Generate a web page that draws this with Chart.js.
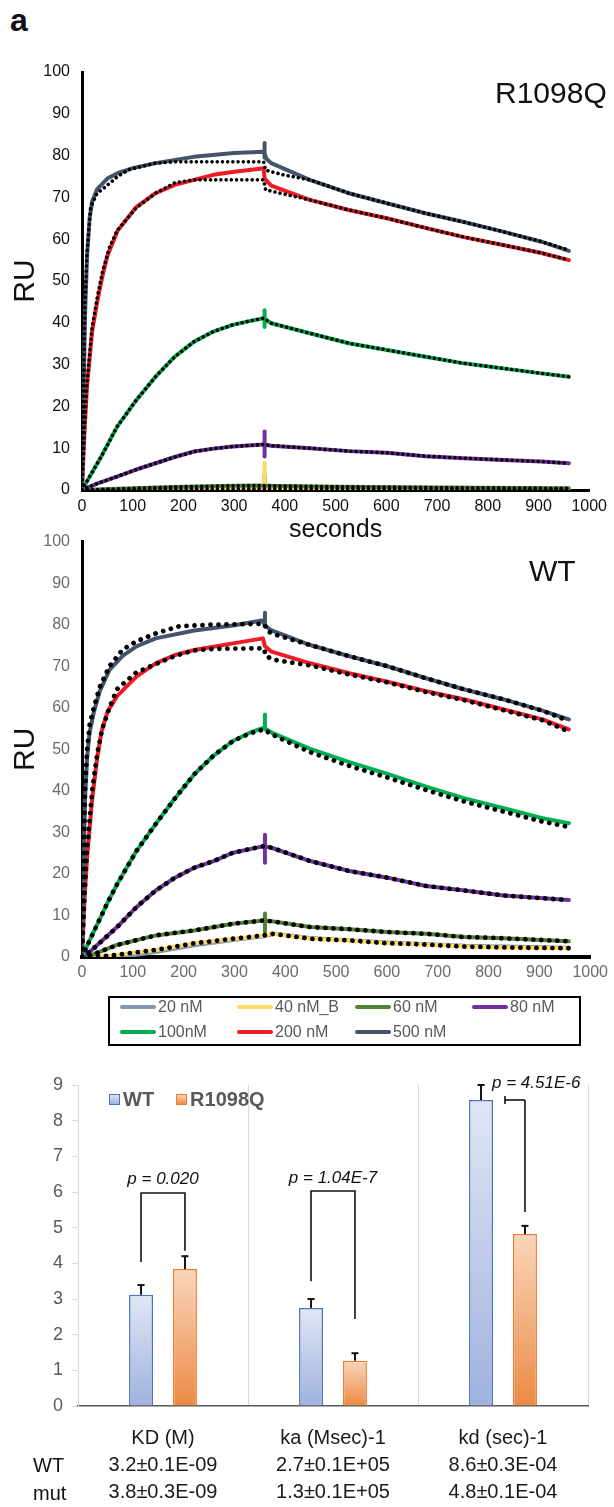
<!DOCTYPE html>
<html>
<head>
<meta charset="utf-8">
<script src="https://cdn.jsdelivr.net/npm/chart.js@4.4.1/dist/chart.umd.min.js"></script>
<style>
  html, body { margin: 0; padding: 0; background: #fff; }
  body { width: 614px; height: 1507px; position: relative; overflow: hidden; font-family: "Liberation Sans", Arial, sans-serif; color: #111; }
  canvas { position: absolute; left: 0; }
  .txt { position: absolute; white-space: nowrap; }
  #lineLegend { position: absolute; left: 108px; top: 996px; width: 469px; height: 46px; border: 2px solid #000; }
  #lineLegend .item { position: absolute; display: flex; align-items: center; font-size: 16px; color: #595959; height: 20px; }
  #lineLegend .sw { width: 36px; height: 4px; border-radius: 2px; margin-right: 2px; }
  #barLegend { position: absolute; left: 109px; top: 1088px; display: flex; align-items: center; font-size: 20px; font-weight: bold; color: #595959; }
  #barLegend .sq { width: 9px; height: 9px; margin-right: 3px; }
</style>
</head>
<body>
<div class="txt" style="left:10px;top:2px;font-size:32px;line-height:36px;font-weight:bold;">a</div>
<canvas id="mutChart" width="614" height="545" style="top:0"></canvas>
<canvas id="wtChart" width="614" height="475" style="top:520px"></canvas>
<div class="txt" style="left:495px;top:76px;font-size:30px;line-height:34px;">R1098Q</div>
<div class="txt" style="left:529px;top:554px;font-size:30px;line-height:34px;">WT</div>
<div id="lineLegend"></div>
<canvas id="barChart" width="614" height="457" style="top:1050px"></canvas>
<div id="barLegend"></div>
<div class="txt" style="left:33px;top:1452px;font-size:20px;line-height:26px;">WT</div>
<div class="txt" style="left:33px;top:1480px;font-size:20px;line-height:26px;">mut</div>
<script>
// series shared by both sensorgrams
const seriesNames = ["20 nM", "40 nM_B", "60 nM", "80 nM", "100nM", "200 nM", "500 nM"];
const seriesColors = ["#8497b0", "#ffd966", "#548235", "#7030a0", "#00b050", "#ee1c25", "#44546a"];
const spikeTime = 360;

// R1098Q (top) – [seconds, RU]
const r20 = [[0, 0], [960, 0]];
const r40 = [[0, 0], [200, 0.2], [358, 0.3], [373, 0.3], [960, 0.2]];
const r60 = [[0, 0], [100, 0.4], [200, 0.8], [300, 1.0], [358, 1.1], [373, 1.0], [500, 0.8], [700, 0.6], [960, 0.4]];
const r80 = [[0, 0], [31, 1.6], [69, 3.2], [107, 4.9], [145, 6.4], [183, 7.9], [221, 9.2], [259, 9.9], [297, 10.4], [358, 10.9],
  [373, 10.6], [449, 10], [526, 9.3], [601, 8.9], [677, 8.1], [753, 7.6], [830, 7.2], [906, 6.8], [960, 6.4]];
const r100 = [[0, 0], [8, 1.7], [38, 8], [69, 15.1], [107, 21.5], [145, 27.1], [183, 31.9], [221, 35.5], [259, 37.9], [297, 39.5],
  [330, 40.4], [358, 41.1], [373, 39.9], [449, 37.5], [526, 35.1], [601, 33.5], [677, 31.9], [753, 30.3], [830, 29.1], [906, 27.9], [960, 27.1]];
const r200 = [[0, 0], [5, 14], [10, 25], [20, 38], [30, 45], [40, 51], [50, 56], [70, 62], [107, 67.7], [145, 71], [183, 73], [221, 74.2],
  [259, 75.4], [297, 76.1], [358, 77], [360, 74.5], [373, 72.8], [449, 69.4], [526, 67], [601, 65], [677, 62.7], [753, 60.5], [830, 58.6], [906, 56.7], [960, 55]];
const r500 = [[0, 0], [3, 22], [6, 42], [10, 56], [15, 65], [20, 69], [30, 72], [50, 74.5], [70, 75.8], [100, 77], [145, 78.2], [220, 79.7],
  [300, 80.6], [358, 80.9], [364, 79.2], [373, 78.2], [449, 74.2], [526, 71], [601, 68.6], [677, 66.2], [753, 64.1], [830, 61.8], [906, 59.4], [960, 57.2]];
const r200Fit = [[0, 0], [5, 15], [10, 26], [20, 39], [30, 46], [40, 52], [54, 58], [69, 62], [107, 67.5], [145, 71], [183, 73.5], [221, 74.2],
  [358, 74.2], [362, 71.8], [380, 71.3], [449, 69.4], [526, 67], [601, 65], [677, 62.7], [753, 60.5], [830, 58.6], [906, 56.7], [960, 55]];
const r500Fit = [[0, 0], [3, 25], [6, 45], [10, 57], [17, 67.7], [30, 71], [46, 72.5], [70, 75], [92, 76.6], [145, 78.2], [183, 78.5],
  [358, 78.5], [362, 76.5], [400, 75.3], [449, 74.2], [526, 71], [601, 68.6], [677, 66.2], [753, 64.1], [830, 61.8], [906, 59.4], [960, 57.4]];
const mutSpikes = [null, [1.5, 6.5], [0.5, 3.6], [8, 14], [39, 43], null, [79.5, 83]];

// WT (middle)
const w20 = [[0, 0], [75, 0], [145, 1.2], [221, 2.8], [297, 4.1], [358, 5], [380, 5.6], [449, 4.6], [601, 3.5], [753, 2.7], [958, 2.2]];
const w40 = [[0, 0], [54, 0.3], [145, 1.7], [221, 3.3], [297, 4.4], [358, 5.2], [373, 5.6], [449, 4.4], [526, 4], [601, 3.3], [677, 3],
  [753, 2.5], [830, 2.3], [958, 2.1]];
const w60 = [[0, 0], [20, 0.5], [69, 2.9], [145, 5.2], [221, 6.4], [297, 8], [358, 8.8], [373, 8.6], [449, 7.2], [526, 6.7], [601, 6],
  [677, 5.6], [753, 4.8], [830, 4.5], [958, 3.8]];
const w80 = [[0, 0], [16, 1.3], [69, 7.2], [107, 12], [145, 16], [183, 19.1], [221, 21.5], [259, 23.1], [297, 25.1], [358, 26.7],
  [373, 26.3], [449, 23.1], [526, 20.7], [601, 19.1], [677, 17.1], [753, 16], [830, 14.8], [958, 13.7]];
const w100 = [[0, 0], [15, 4], [50, 13], [69, 17.5], [107, 25.5], [145, 32], [183, 38.2], [221, 44], [259, 48.5], [297, 52], [330, 54],
  [358, 55.2], [373, 54], [449, 50.1], [526, 46.9], [601, 44.1], [677, 41], [753, 38.2], [830, 35.8], [906, 33.4], [958, 32.2]];
const w200 = [[0, 0], [5, 14], [10, 24], [20, 38], [30, 48], [38, 54], [50, 59], [69, 62.8], [107, 67.5], [145, 70.7], [183, 72.7],
  [221, 73.9], [297, 75.5], [356, 76.7], [360, 74.8], [373, 73.5], [449, 70.7], [526, 68.3], [601, 66.3], [677, 64], [753, 62], [830, 59.6], [906, 57.2], [958, 54.8]];
const w500 = [[0, 0], [3, 20], [6, 38], [10, 48], [15, 54], [23, 58.8], [35, 64], [54, 69.1], [80, 72.5], [107, 74.8], [145, 76.7],
  [221, 78.6], [297, 79.8], [354, 81], [362, 79.6], [373, 78.6], [449, 75.1], [526, 72.4], [601, 70], [677, 67.1], [753, 64.4], [830, 62], [906, 59.3], [958, 57.2]];
const w100Fit = [[0, 0], [15, 4], [50, 13], [69, 17.5], [107, 25.5], [145, 32], [183, 38.2], [221, 44], [259, 48.5], [297, 52], [330, 53.8],
  [358, 54.8], [373, 53.6], [449, 49.3], [526, 46], [601, 43.2], [677, 40.2], [753, 37.4], [830, 35], [906, 32.6], [958, 31.3]];
const w200Fit = [[0, 0], [5, 15], [10, 26], [20, 40], [30, 49], [40, 55], [54, 60], [69, 64.5], [107, 68.5], [145, 70.5], [183, 72.5],
  [221, 73.8], [260, 74.2], [358, 74.3], [362, 72.4], [380, 71.5], [449, 70.2], [526, 68], [601, 66.1], [677, 63.8], [753, 61.8], [830, 59.4], [906, 57], [958, 54.3]];
const w500Fit = [[0, 0], [3, 22], [6, 40], [10, 50], [15, 56], [23, 60], [35, 65], [54, 70], [80, 74], [107, 76], [145, 77.9], [191, 79.6],
  [250, 80], [358, 80.2], [366, 78.4], [380, 77.6], [449, 75.1], [526, 72.4], [601, 70], [677, 67.1], [753, 64.4], [830, 62], [906, 59.3], [958, 56.8]];
const wtSpikes = [null, null, [6, 10.5], [22.7, 29.4], [54.8, 58.4], null, [80.2, 82.9]];

// kinetics bar chart
const barCategories = ["KD (M)", "ka (Msec)-1", "kd (sec)-1"];
const wtRow = ["3.2±0.1E-09", "2.7±0.1E+05", "8.6±0.3E-04"];
const mutRow = ["3.8±0.3E-09", "1.3±0.1E+05", "4.8±0.1E-04"];
const wtBars = [3.12, 2.75, 8.58];
const wtErr = [0.27, 0.25, 0.42];
const mutBars = [3.84, 1.27, 4.82];
const mutErr = [0.36, 0.21, 0.23];
const pLabels = ["p = 0.020", "p = 1.04E-7", "p = 4.51E-6"];
// bracket levels in axis units
const brackets = [
  { top: 5.97, wtEnd: 4.04, mutEnd: 4.35, label: 6.36 },
  { top: 6.03, wtEnd: 3.5, mutEnd: 2.44, label: 6.38 },
  { side: true, top: 8.58, mutEnd: 5.44, label: 9.06 },
];

Chart.defaults.font.family = "'Liberation Sans', Arial, sans-serif";

const toXY = (pts) => pts.map(([x, y]) => ({ x, y }));

function sensorgram(id, curves, fits, spikes, o) {
  const datasets = [];
  curves.forEach((pts, i) => {
    datasets.push({ data: toXY(pts), borderColor: seriesColors[i], borderWidth: 4, order: 20 - i });
  });
  spikes.forEach((s, i) => {
    if (!s) return;
    datasets.push({ data: [{ x: spikeTime, y: s[0] }, { x: spikeTime, y: s[1] }], borderColor: seriesColors[i], borderWidth: 4, order: 10 });
  });
  fits.forEach((pts) => {
    datasets.push({ data: toXY(pts), borderColor: "#000", borderWidth: o.dot, borderDash: [0.01, o.gap], order: 0 });
  });

  return new Chart(document.getElementById(id), {
    type: "line",
    data: { datasets },
    options: {
      responsive: false,
      animation: false,
      events: [],
      layout: { padding: { top: o.top, right: 17, left: 0, bottom: 0 } },
      elements: {
        point: { radius: 0 },
        line: { tension: 0, fill: false, borderCapStyle: "round", borderJoinStyle: "round" },
      },
      plugins: { legend: { display: false }, tooltip: { enabled: false } },
      scales: {
        x: {
          type: "linear",
          min: 0,
          max: 1000,
          afterFit: (s) => { s.height = o.xHeight; },
          grid: { display: false, drawTicks: false },
          border: { color: "#000", width: o.xBorder },
          ticks: { stepSize: 100, color: o.tickColor, font: { size: 16 }, padding: o.xPad, maxRotation: 0, callback: (v) => String(v) },
          title: { display: !!o.xTitle, text: o.xTitle, color: "#111", font: { size: 25 }, padding: { top: 0, bottom: 0 } },
        },
        y: {
          min: 0,
          max: 100,
          afterFit: (s) => { s.width = 82; },
          grid: { display: false, drawTicks: false },
          border: { color: "#000", width: 3 },
          ticks: { stepSize: 10, color: o.tickColor, font: { size: 16 }, padding: 12 },
          title: { display: true, text: "RU", color: "#111", font: { size: 30 }, padding: { top: 8, bottom: 0 } },
        },
      },
    },
  });
}

sensorgram("mutChart", [r20, r40, r60, r80, r100, r200, r500], [r40, r60, r80, r100, r200Fit, r500Fit], mutSpikes,
  { top: 72, xHeight: 55, xBorder: 3, xPad: 7, tickColor: "#111", xTitle: "seconds", dot: 3.6, gap: 5.2 });
sensorgram("wtChart", [w20, w40, w60, w80, w100, w200, w500], [w40, w60, w80, w100Fit, w200Fit, w500Fit], wtSpikes,
  { top: 17, xHeight: 38, xBorder: 4, xPad: 6, tickColor: "#6b6b6b", xTitle: "", dot: 4.8, gap: 8 });

// legend box under the sensorgrams
const legendEl = document.getElementById("lineLegend");
const colX = [10, 127, 245, 362];
seriesNames.forEach((name, i) => {
  const item = document.createElement("div");
  item.className = "item";
  item.style.left = colX[i % 4] + "px";
  item.style.top = (i < 4 ? -1 : 24) + "px";
  item.innerHTML = `<span class="sw" style="background:${seriesColors[i]}"></span>${name}`;
  legendEl.appendChild(item);
});

// bar chart
const wtFill = ["#e0e6f5", "#9fb2de", "#4a72c0"];
const mutFill = ["#f9d6bb", "#ec8a45", "#ed7d31"];

function barGradient(stops) {
  return (ctx) => {
    const chart = ctx.chart;
    if (!chart.chartArea || ctx.type !== "data") return stops[1];
    const y = chart.scales.y;
    const g = chart.ctx.createLinearGradient(0, y.getPixelForValue(ctx.raw), 0, y.getPixelForValue(0));
    g.addColorStop(0, stops[0]);
    g.addColorStop(1, stops[1]);
    return g;
  };
}

const barMarks = {
  id: "barMarks",
  afterDatasetsDraw(chart) {
    const { ctx } = chart;
    const y = chart.scales.y;
    const wtEls = chart.getDatasetMeta(0).data;
    const mutEls = chart.getDatasetMeta(1).data;
    const seg = (x1, y1, x2, y2) => { ctx.beginPath(); ctx.moveTo(x1, y1); ctx.lineTo(x2, y2); ctx.stroke(); };

    ctx.save();
    ctx.strokeStyle = "#111";
    ctx.lineWidth = 2;
    [[wtEls, wtBars, wtErr], [mutEls, mutBars, mutErr]].forEach(([els, vals, errs]) => {
      els.forEach((el, i) => {
        const y0 = y.getPixelForValue(vals[i]);
        const y1 = y.getPixelForValue(vals[i] + errs[i]);
        seg(el.x, y0, el.x, y1);
        seg(el.x - 3.5, y1, el.x + 3.5, y1);
      });
    });

    ctx.lineWidth = 1.6;
    ctx.fillStyle = "#111";
    ctx.font = "italic 17px 'Liberation Sans', Arial, sans-serif";
    ctx.textBaseline = "middle";
    brackets.forEach((b, i) => {
      const xw = wtEls[i].x, xm = mutEls[i].x;
      const yt = y.getPixelForValue(b.top);
      if (b.side) {
        const xs = xw + wtEls[i].width;
        seg(xs, yt, xm, yt);
        seg(xs, yt - 4, xs, yt + 4);
        seg(xm, yt, xm, y.getPixelForValue(b.mutEnd));
        ctx.textAlign = "left";
        ctx.fillText(pLabels[i], xw + wtEls[i].width / 2 - 1, y.getPixelForValue(b.label));
      } else {
        ctx.beginPath();
        ctx.moveTo(xw, y.getPixelForValue(b.wtEnd));
        ctx.lineTo(xw, yt);
        ctx.lineTo(xm, yt);
        ctx.lineTo(xm, y.getPixelForValue(b.mutEnd));
        ctx.stroke();
        ctx.textAlign = "center";
        ctx.fillText(pLabels[i], (xw + xm) / 2, y.getPixelForValue(b.label));
      }
    });
    ctx.restore();
  },
};

new Chart(document.getElementById("barChart"), {
  type: "bar",
  data: {
    labels: barCategories.map((c, i) => [c, wtRow[i], mutRow[i]]),
    datasets: [
      { label: "WT", data: wtBars, backgroundColor: barGradient(wtFill), borderColor: wtFill[2], borderWidth: 1.5,
        categoryPercentage: 0.517, barPercentage: 0.545 },
      { label: "R1098Q", data: mutBars, backgroundColor: barGradient(mutFill), borderColor: mutFill[2], borderWidth: 1.5,
        categoryPercentage: 0.517, barPercentage: 0.545 },
    ],
  },
  options: {
    responsive: false,
    animation: false,
    events: [],
    layout: { padding: { top: 35, right: 26, left: 0, bottom: 0 } },
    plugins: { legend: { display: false }, tooltip: { enabled: false } },
    scales: {
      x: {
        afterFit: (s) => { s.height = 101; },
        grid: { color: "#d9d9d9", lineWidth: 1, drawTicks: false },
        border: { color: "#595959", width: 1.5 },
        ticks: { color: "#1a1a1a", font: { size: 20, lineHeight: 1.35 }, padding: 19, maxRotation: 0, autoSkip: false },
      },
      y: {
        min: 0,
        max: 9,
        afterFit: (s) => { s.width = 78; },
        grid: { drawOnChartArea: false, color: "#d9d9d9", tickLength: 6 },
        border: { color: "#d9d9d9", width: 1 },
        ticks: { stepSize: 1, color: "#595959", font: { size: 18 }, padding: 9 },
      },
    },
  },
  plugins: [barMarks],
});

// bar legend
document.getElementById("barLegend").innerHTML =
  `<span class="sq" style="background:linear-gradient(${wtFill[0]},${wtFill[1]});border:1px solid ${wtFill[2]}"></span>WT` +
  `<span class="sq" style="margin-left:22px;background:linear-gradient(${mutFill[0]},${mutFill[1]});border:1px solid ${mutFill[2]}"></span>R1098Q`;
</script>
</body>
</html>
